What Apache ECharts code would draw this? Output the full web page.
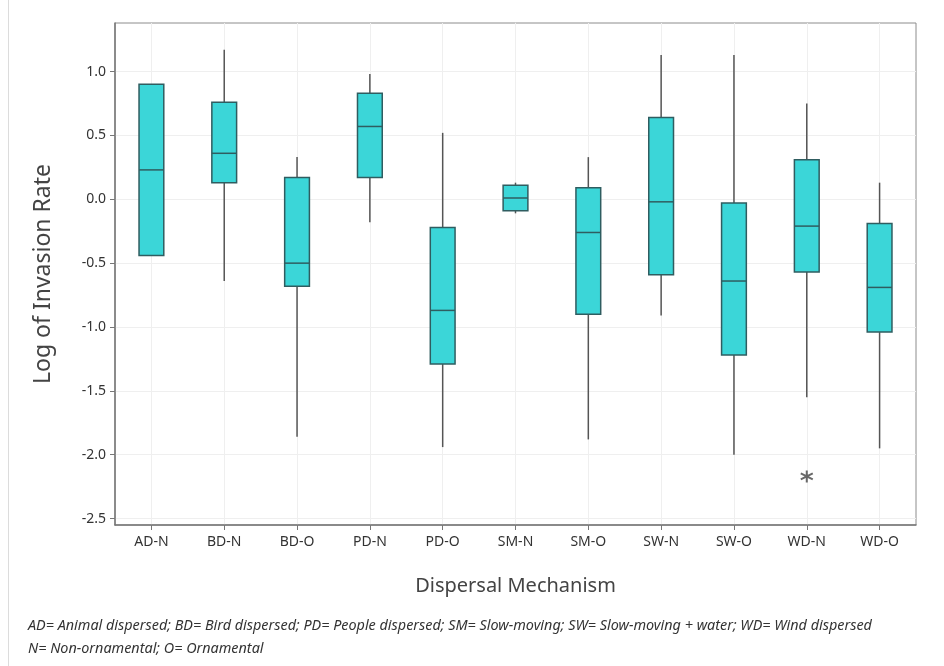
<!DOCTYPE html>
<html>
<head>
<meta charset="utf-8">
<script src="https://cdn.jsdelivr.net/npm/echarts@6/dist/echarts.min.js"></script>
<style>
  html, body { margin: 0; padding: 0; background: #fff; }
  #main { width: 944px; height: 666px; }
</style>
</head>
<body>
<div id="main"></div>
<script>
  // categories on the x axis
  let categories = ['AD-N', 'BD-N', 'BD-O', 'PD-N', 'PD-O', 'SM-N', 'SM-O', 'SW-N', 'SW-O', 'WD-N', 'WD-O'];
  // five-number summaries (log of invasion rate)
  let whiskerLow = [-0.44, -0.64, -1.86, -0.18, -1.94, -0.11, -1.88, -0.91, -2.00, -1.55, -1.95];
  let q1Values = [-0.44, 0.13, -0.68, 0.17, -1.29, -0.09, -0.90, -0.59, -1.22, -0.57, -1.04];
  let medianValues = [0.23, 0.36, -0.50, 0.57, -0.87, 0.01, -0.26, -0.02, -0.64, -0.21, -0.69];
  let q3Values = [0.90, 0.76, 0.17, 0.83, -0.22, 0.11, 0.09, 0.64, -0.03, 0.31, -0.19];
  let whiskerHigh = [0.90, 1.17, 0.33, 0.98, 0.52, 0.13, 0.33, 1.13, 1.13, 0.75, 0.13];
  // outliers: [category index, value]
  let outliers = [[9, -2.17]];
  // y tick labels
  let yTicks = [-2.5, -2.0, -1.5, -1.0, -0.5, 0.0, 0.5, 1.0];

  let boxData = categories.map(function (c, i) {
    return [i, whiskerLow[i], q1Values[i], medianValues[i], q3Values[i], whiskerHigh[i]];
  });
  let catIdx = categories.map(function (c, i) { return i; });

  let myChart = echarts.init(document.getElementById('main'));

  let option = {
    backgroundColor: '#fff',
    textStyle: { fontFamily: 'Noto Sans' },
    grid: {
      left: 115, right: 28, top: 23, bottom: 141,
      show: true, borderColor: '#8c8c8c', borderWidth: 1
    },
    xAxis: {
      type: 'value',
      min: -0.5,
      max: categories.length - 0.5,
      name: 'Dispersal Mechanism',
      nameLocation: 'middle',
      nameGap: 51,
      nameTextStyle: { fontSize: 20, color: '#444' },
      axisLine: { show: true, onZero: false, lineStyle: { color: '#777', width: 1.5 } },
      axisTick: { show: true, length: 5, customValues: catIdx, lineStyle: { color: '#777' } },
      axisLabel: {
        customValues: catIdx,
        fontSize: 14, color: '#333', margin: 10,
        formatter: function (v) { return categories[Math.round(v)]; }
      },
      splitLine: { show: true, lineStyle: { color: '#efefef', width: 1 } }
    },
    yAxis: {
      type: 'value',
      min: -2.55,
      max: 1.38,
      name: 'Log of Invasion Rate',
      nameLocation: 'middle',
      nameGap: 60,
      nameTextStyle: { fontSize: 23, color: '#444' },
      axisLine: { show: true, onZero: false, lineStyle: { color: '#777', width: 1.5 } },
      axisTick: { show: true, length: 5, customValues: yTicks, lineStyle: { color: '#777' } },
      axisLabel: {
        customValues: yTicks,
        fontSize: 14, color: '#333', margin: 9,
        formatter: function (v) { return v.toFixed(1); }
      },
      splitLine: { show: true, lineStyle: { color: '#efefef', width: 1 } }
    },
    series: [
      {
        type: 'custom',
        data: boxData,
        encode: { x: 0, y: [1, 2, 3, 4, 5] },
        renderItem: function (params, api) {
          let x = api.value(0);
          let lo = api.coord([x, api.value(1)]);
          let p1 = api.coord([x, api.value(2)]);
          let md = api.coord([x, api.value(3)]);
          let p3 = api.coord([x, api.value(4)]);
          let hi = api.coord([x, api.value(5)]);
          let half = api.size([1, 0])[0] * 0.17;
          let whisker = { stroke: '#555', lineWidth: 1.5 };
          return {
            type: 'group',
            children: [
              { type: 'line', shape: { x1: lo[0], y1: lo[1], x2: p1[0], y2: p1[1] }, style: whisker },
              { type: 'line', shape: { x1: p3[0], y1: p3[1], x2: hi[0], y2: hi[1] }, style: whisker },
              {
                type: 'rect',
                shape: { x: p3[0] - half, y: p3[1], width: half * 2, height: p1[1] - p3[1] },
                style: { fill: '#3bd6d8', stroke: '#2f5d60', lineWidth: 1.5 }
              },
              {
                type: 'line',
                shape: { x1: md[0] - half, y1: md[1], x2: md[0] + half, y2: md[1] },
                style: { stroke: '#2f5d60', lineWidth: 1.5 }
              }
            ]
          };
        },
        z: 5
      },
      {
        type: 'scatter',
        data: outliers,
        symbol: 'path://M5,0 L5,10 M0.7,2.5 L9.3,7.5 M0.7,7.5 L9.3,2.5',
        symbolSize: 12,
        itemStyle: { color: 'none', borderColor: '#444', borderWidth: 2 },
        z: 6
      }
    ],
    graphic: [
      {
        type: 'rect',
        shape: { x: 8, y: 0, width: 1, height: 666 },
        style: { fill: '#dcdcdc' }
      },
      {
        type: 'text',
        left: 28, top: 619,
        style: {
          text: 'AD= Animal dispersed; BD= Bird dispersed; PD= People dispersed; SM= Slow-moving; SW= Slow-moving + water; WD= Wind dispersed',
          font: 'italic 14.4px "Noto Sans"',
          fill: '#333'
        }
      },
      {
        type: 'text',
        left: 28, top: 642,
        style: {
          text: 'N= Non-ornamental; O= Ornamental',
          font: 'italic 14.4px "Noto Sans"',
          fill: '#333'
        }
      }
    ]
  };

  myChart.setOption(option);
</script>
</body>
</html>
